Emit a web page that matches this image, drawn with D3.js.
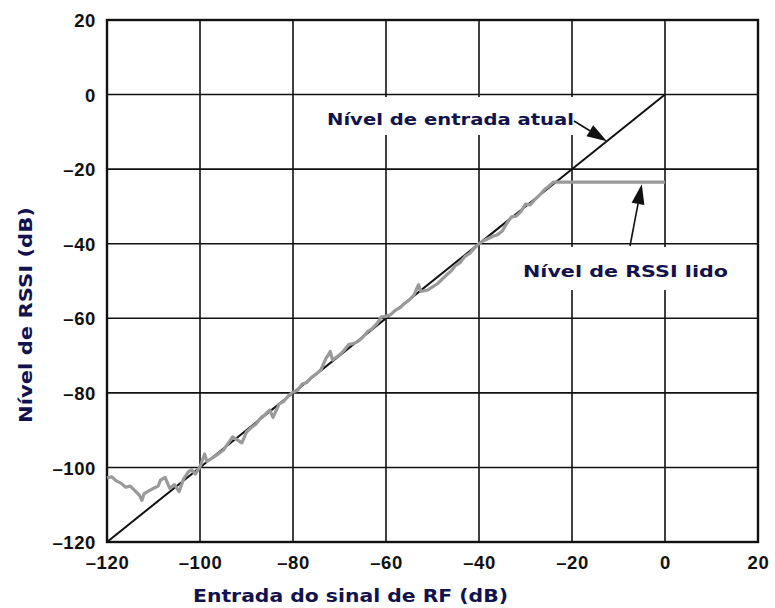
<!DOCTYPE html>
<html>
<head>
<meta charset="utf-8">
<script src="https://cdn.jsdelivr.net/npm/d3@7"></script>
<style>
  html, body { margin: 0; padding: 0; background: #fff; }
  svg { display: block; }
</style>
</head>
<body>
<svg id="chart" width="775" height="608"></svg>
<script>
// Axis ticks (dB)
const xTicks = [-120, -100, -80, -60, -40, -20, 0, 20];
const yTicks = [-120, -100, -80, -60, -40, -20, 0, 20];

// Actual input level: ideal 1:1 response
const inputX = [-120, 0];
const inputY = [-120, 0];

// RSSI level read back from the receiver
const rssiX = [-120, -119, -118, -117, -116, -115, -114, -113, -112.5, -112, -111, -110, -109, -108.5, -107.5,
  -106.5, -105.5, -104.5, -103.5, -102.5, -101.8, -101, -100, -99, -98.5, -97, -96, -95, -94, -93, -92, -91,
  -90, -89, -88, -87, -86, -85, -84.3, -83, -82, -81, -80, -79, -78, -77, -76, -75, -74, -73, -72, -71.5,
  -70, -69, -68, -67, -66, -65, -64, -63, -62, -61, -60, -59, -58, -57, -56, -55, -54, -53, -52.5, -51,
  -50, -49, -48, -47, -46, -45, -44, -43, -42, -41, -40, -39, -38, -37, -36, -35, -34, -33, -32, -31,
  -30, -29, -28, -27, -26, -25, -24, 0];
const rssiY = [-102.8, -102.5, -103.6, -104.2, -105.3, -105.0, -106.2, -107.5, -108.8, -107.0, -106.3, -105.6, -105.0, -103.4, -102.7,
  -105.6, -104.6, -106.5, -103.0, -101.2, -100.6, -101.8, -99.8, -96.4, -98.4, -97.2, -96.3, -95.4, -93.6, -91.8, -92.6, -93.4,
  -90.5, -89.3, -88.4, -86.8, -85.8, -84.6, -86.6, -83.0, -82.3, -80.8, -79.8, -79.3, -77.6, -77.2, -75.8, -74.9, -73.8, -71.0, -68.9, -71.2,
  -69.8, -68.6, -67.0, -66.8, -66.2, -65.1, -63.6, -62.8, -61.5, -59.6, -59.5, -59.0, -57.8, -57.2, -56.0, -55.1, -53.8, -51.0, -52.8, -52.4,
  -51.6, -50.8, -49.6, -48.4, -47.3, -45.8, -45.0, -43.4, -42.6, -41.2, -40.0, -39.2, -38.6, -38.0, -37.6, -36.6, -34.5, -32.8, -32.6, -31.4,
  -29.4, -29.6, -28.2, -27.0, -25.6, -24.6, -23.5, -23.5];

const svg = d3.select("#chart");
const margin = { left: 107, right: 17, top: 20, bottom: 66 };
const W = 775, H = 608;

const x = d3.scaleLinear().domain([-120, 20]).range([margin.left, W - margin.right]);
const y = d3.scaleLinear().domain([-120, 20]).range([H - margin.bottom, margin.top]);

const ink = "#111";
const navy = "#12124e";
const tickFont = "bold 18.5px 'Liberation Sans', Arial, sans-serif";

// Grid
const grid = svg.append("g");
grid.selectAll("line.v").data(xTicks).join("line")
  .attr("x1", d => x(d)).attr("x2", d => x(d))
  .attr("y1", y(-120)).attr("y2", y(20))
  .attr("stroke", ink).attr("stroke-width", 1.6);
grid.selectAll("line.h").data(yTicks).join("line")
  .attr("y1", d => y(d)).attr("y2", d => y(d))
  .attr("x1", x(-120)).attr("x2", x(20))
  .attr("stroke", ink).attr("stroke-width", 1.6);

// Plot frame
svg.append("rect")
  .attr("x", x(-120)).attr("y", y(20))
  .attr("width", x(20) - x(-120)).attr("height", y(-120) - y(20))
  .attr("fill", "none").attr("stroke", ink).attr("stroke-width", 2.4);

// Axes tick labels
const fmt = d => d < 0 ? "\u2013" + Math.abs(d) : d;
const xAxis = d3.axisBottom(x).tickValues(xTicks).tickSize(0).tickPadding(0).tickFormat(fmt);
const yAxis = d3.axisLeft(y).tickValues(yTicks).tickSize(0).tickPadding(0).tickFormat(fmt);

const gx = svg.append("g").attr("transform", `translate(0,${y(-120)})`).call(xAxis);
gx.select(".domain").remove();
gx.selectAll("text")
  .attr("dy", null).attr("y", 27)
  .attr("fill", ink)
  .style("font", tickFont).style("letter-spacing", "0.6px");

const gy = svg.append("g").attr("transform", `translate(${x(-120) - 11},0)`).call(yAxis);
gy.select(".domain").remove();
gy.selectAll("text")
  .attr("dy", "0.36em")
  .attr("fill", ink)
  .style("font", tickFont).style("letter-spacing", "0.6px");

// Lines
const line = d3.line().x(d => x(d[0])).y(d => y(d[1]));

svg.append("path")
  .datum(inputX.map((v, i) => [v, inputY[i]]))
  .attr("d", line)
  .attr("fill", "none").attr("stroke", "#111").attr("stroke-width", 2);

svg.append("path")
  .datum(rssiX.map((v, i) => [v, rssiY[i]]))
  .attr("d", line)
  .attr("fill", "none").attr("stroke", "#9a9a9a").attr("stroke-width", 3.2)
  .attr("stroke-linejoin", "round");

// Annotations
const labelFont = "bold 16.5px 'DejaVu Sans', Verdana, sans-serif";

function label(txt, tx, ty, len, box) {
  svg.append("rect")
    .attr("x", box[0]).attr("y", box[1]).attr("width", box[2]).attr("height", box[3])
    .attr("fill", "#fff");
  svg.append("text")
    .attr("x", tx).attr("y", ty)
    .attr("textLength", len).attr("lengthAdjust", "spacingAndGlyphs")
    .attr("fill", navy)
    .style("font", labelFont)
    .text(txt);
}

function arrow(x0, y0, x1, y1) {
  const ang = Math.atan2(y1 - y0, x1 - x0);
  const L = 20, w = 6.5;
  const bx = x1 - L * Math.cos(ang), by = y1 - L * Math.sin(ang);
  svg.append("line")
    .attr("x1", x0).attr("y1", y0).attr("x2", bx).attr("y2", by)
    .attr("stroke", "#111").attr("stroke-width", 1.6);
  const px = -Math.sin(ang) * w, py = Math.cos(ang) * w;
  svg.append("path")
    .attr("d", `M${x1},${y1}L${bx + px},${by + py}L${bx - px},${by - py}Z`)
    .attr("fill", "#111");
}

label("Nível de entrada atual", 327, 125, 247, [318, 97, 258, 38]);
arrow(574, 121, x(-12.5), y(-12.5));

label("Nível de RSSI lido", 523, 277, 205, [514, 247, 222, 43]);
arrow(630, 246, x(-5), y(-23.5) + 2);

// Axis titles
svg.append("text")
  .attr("x", 193).attr("y", 602)
  .attr("textLength", 315).attr("lengthAdjust", "spacingAndGlyphs")
  .attr("fill", navy)
  .style("font", "bold 18px 'DejaVu Sans', Verdana, sans-serif")
  .text("Entrada do sinal de RF (dB)");

svg.append("text")
  .attr("transform", `translate(32,${315}) rotate(-90)`)
  .attr("text-anchor", "middle")
  .attr("textLength", 216).attr("lengthAdjust", "spacingAndGlyphs")
  .attr("fill", navy)
  .style("font", "bold 17px 'DejaVu Sans', Verdana, sans-serif")
  .text("Nível de RSSI  (dB)");
</script>
</body>
</html>
